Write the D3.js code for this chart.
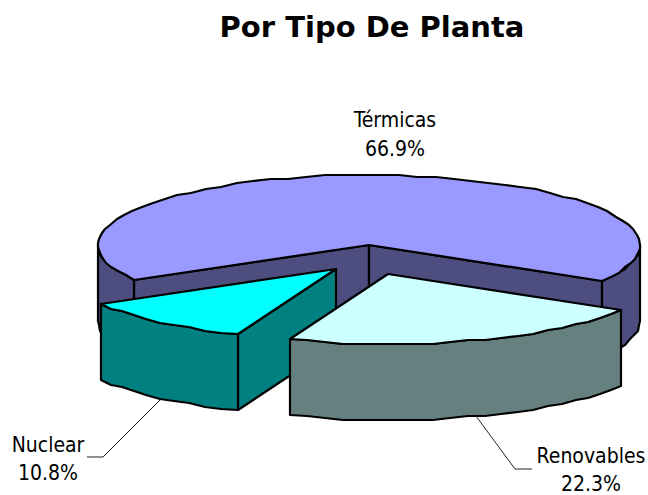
<!DOCTYPE html>
<html><head><meta charset="utf-8">
<script src="https://cdnjs.cloudflare.com/ajax/libs/d3/7.8.5/d3.min.js"></script>
<style>html,body{margin:0;padding:0;background:#fff}svg{display:block}
text{font-family:"DejaVu Sans Condensed","DejaVu Sans",sans-serif;fill:#000}</style>
</head><body><script>
const categories = ["Térmicas", "Renovables", "Nuclear"];
const shares = [66.9, 22.3, 10.8];
const shareLabels = ["66.9%", "22.3%", "10.8%"];
const topColors = ["#9999ff", "#ccffff", "#00ffff"];
const sideColors = ["#4d4d80", "#668080", "#008080"];

// layout
const W = 648, H = 495, RX = 271, RY = 70, DEPTH = 76, GRID = 2;
const centers = [[369, 245], [388, 274], [336, 269]];
const leaders = [null, [[476, 416], [515, 469], [532, 469]], [[160, 400], [103, 457], [87, 457]]];
const labelPos = [[395, 127, 156], [591, 463, 491], [48, 452, 480]];

const svg = d3.select("body").append("svg").attr("width", W).attr("height", H);
svg.append("text").attr("x", 372).attr("y", 37).attr("text-anchor", "middle")
  .style("font-family", '"DejaVu Sans",sans-serif').style("font-weight", "bold").style("font-size", "29px")
  .text("Por Tipo De Planta");

const rad = d => d * Math.PI / 180;
const pie = d3.pie().sort(null).startAngle(rad(240)).endAngle(rad(600));
const arcs = pie(shares);
const line = d3.line();
const px = (c, a) => Math.round(c[0] + RX * Math.sin(a));
const py = (c, a) => Math.round(c[1] - RY * Math.cos(a));
const snap = v => Math.round(v / GRID) * GRID;
function arcPts(c, a0, a1, dz = 0) {
  const n = Math.max(2, Math.ceil(Math.abs(a1 - a0) / rad(4)));
  return d3.range(n + 1).map(i => {
    const a = a0 + (a1 - a0) * i / n;
    const ends = i === 0 || i === n;
    const x = px(c, a), y = c[1] - RY * Math.cos(a);
    return [x, (ends ? Math.round(y) : c[1] + snap(y - c[1])) + dz];
  });
}
function face(pts, fill) {
  svg.append("path").attr("d", line(pts) + "Z").attr("fill", fill)
    .attr("stroke", "#000").attr("stroke-width", 2.2).attr("stroke-linejoin", "round");
}
function down(p) { return [p[0], p[1] + DEPTH]; }

function drawSlice(i) {
  const c = centers[i], d = arcs[i], a0 = d.startAngle, a1 = d.endAngle;
  const P0 = [px(c, a0), py(c, a0)], P1 = [px(c, a1), py(c, a1)];
  const side = sideColors[i];
  if (i === 0) {
    // cut faces seen through the gap left by the pulled-out slices
    face([c, P0, down(P0), down(c)], side);
    face([c, P1, down(P1), down(c)], side);
    // visible outer rim on both sides of the gap
    const l = arcPts(c, a0, rad(270));
    face([...l, ...l.slice().reverse().map(down)], side);
    const r = arcPts(c, rad(450), a1);
    face([...r, ...r.slice().reverse().map(down)], side);
  } else {
    if (i === 2) face([c, P0, down(P0), down(c)], side);
    const f = arcPts(c, a0, a1);
    face([...f, ...f.slice().reverse().map(down)], side);
  }
  face([c, ...arcPts(c, a0, a1)], topColors[i]);
}
[0, 2, 1].forEach(drawSlice);

leaders.forEach(l => {
  if (l) svg.append("path").attr("d", line(l)).attr("fill", "none").attr("stroke", "#222").attr("stroke-width", 1);
});
categories.forEach((name, i) => {
  const [x, y0, y1] = labelPos[i];
  svg.append("text").attr("x", x).attr("y", y0).attr("text-anchor", "middle").style("font-size", "21px").text(name);
  svg.append("text").attr("x", x).attr("y", y1).attr("text-anchor", "middle").style("font-size", "21px").text(shareLabels[i]);
});
</script></body></html>
